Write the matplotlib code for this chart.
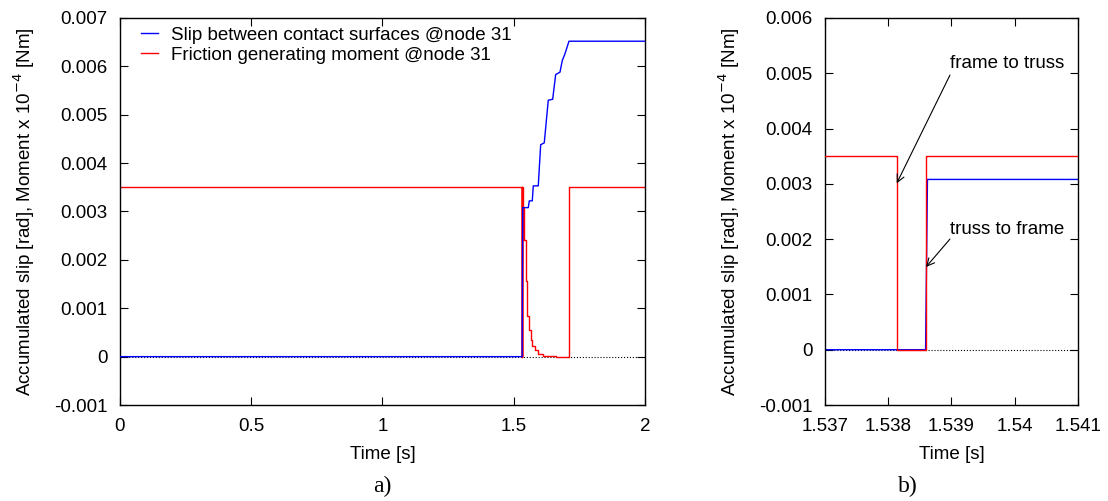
import matplotlib.pyplot as plt
import numpy as np

plt.rcParams['font.family'] = ['Liberation Sans', 'DejaVu Sans']
plt.rcParams['font.size'] = 13.5

# a) whole time history, node 31
t_slip = [0.0, 1.5320, 1.5343, 1.5555, 1.5593, 1.5707, 1.5745, 1.5935, 1.6027, 1.6164,
          1.6316, 1.6484, 1.6598, 1.6762, 1.6850, 1.6952, 1.7105, 2.0]
slip = [0.0, 0.0, 0.00308, 0.00308, 0.00322, 0.00322, 0.00353, 0.00353, 0.00438, 0.00442,
        0.00530, 0.00532, 0.00583, 0.00588, 0.00612, 0.00626, 0.00652, 0.00652]

# step values (held until next time)
t_mom = [0.0, 1.5310, 1.5315, 1.5320, 1.5325, 1.5340, 1.5390, 1.5467, 1.5517, 1.5580, 1.5644,
         1.5707, 1.5810, 1.5936, 1.6127, 1.6380, 1.6600, 1.7095, 2.0]
moment = [0.0035, 0.0, 0.0035, 0.0, 0.0035, 0.00308, 0.00242, 0.00156, 0.00083, 0.00056, 0.00035,
          0.00021, 0.00013, 0.00006, 0.00002, 0.00001, 0.0, 0.0035, 0.0035]

# b) zoom on the first slip event
t_slip_b = [1.537, 1.53859, 1.53862, 1.541]
slip_b = [0.0, 0.0, 0.00308, 0.00308]
t_mom_b = [1.537, 1.53814, 1.53860, 1.541]
moment_b = [0.0035, 0.0, 0.0035, 0.0035]

fig = plt.figure(figsize=(11.08, 5.01), dpi=100)
ax1 = fig.add_axes([0.1083, 0.1916, 0.4738, 0.7725])
ax2 = fig.add_axes([0.7446, 0.1916, 0.2283, 0.7725])

for ax in (ax1, ax2):
    ax.axhline(0, color='black', ls=':', lw=0.8, zorder=1)
    ax.tick_params(direction='in', top=True, right=True, length=6, width=0.8)
    ax.tick_params(axis='x', pad=9)
    ax.tick_params(axis='y', pad=9)
    for s in ax.spines.values():
        s.set_linewidth(1.0)
    ax.set_xlabel('Time [s]', labelpad=8)
    ax.set_ylabel(r'Accumulated slip [rad], Moment x 10$^{-4}$ [Nm]', labelpad=12)

ax1.plot(t_slip, slip, color='#0000ff', lw=1.0, label='Slip between contact surfaces @node 31', zorder=3)
ax1.plot(t_mom, moment, color='#ff0000', lw=1.0, drawstyle='steps-post',
         label='Friction generating moment @node 31', zorder=2)
ax1.set_xlim(0, 2)
ax1.set_ylim(-0.001, 0.007)
ax1.set_xticks([0, 0.5, 1, 1.5, 2])
ax1.set_xticklabels(['0', '0.5', '1', '1.5', '2'])
ax1.set_yticks(np.arange(-0.001, 0.0071, 0.001))
ax1.set_yticklabels(['-0.001', '0', '0.001', '0.002', '0.003', '0.004', '0.005', '0.006', '0.007'])
ax1.legend(loc='upper left', frameon=False, handlelength=0.9, handletextpad=0.7,
           borderpad=0, borderaxespad=0, labelspacing=0.15, bbox_to_anchor=(0.04, 0.977))

ax2.plot(t_slip_b, slip_b, color='#0000ff', lw=1.0, zorder=2)
ax2.plot(t_mom_b, moment_b, color='#ff0000', lw=1.0, drawstyle='steps-post', zorder=3)
ax2.set_xlim(1.537, 1.541)
ax2.set_ylim(-0.001, 0.006)
ax2.set_xticks([1.537, 1.538, 1.539, 1.54, 1.541])
ax2.set_xticklabels(['1.537', '1.538', '1.539', '1.54', '1.541'])
ax2.set_yticks(np.arange(-0.001, 0.0061, 0.001))
ax2.set_yticklabels(['-0.001', '0', '0.001', '0.002', '0.003', '0.004', '0.005', '0.006'])

arr = dict(arrowstyle='->', color='black', lw=0.8, shrinkA=0, shrinkB=0)
ax2.annotate('', xy=(1.538134, 0.00301), xytext=(1.538976, 0.004968), arrowprops=arr)
ax2.annotate('', xy=(1.538597, 0.001496), xytext=(1.538976, 0.002002), arrowprops=arr)
ax2.text(1.539877, 0.005185, 'frame to truss', ha='center', va='center')
ax2.text(1.539877, 0.002183, 'truss to frame', ha='center', va='center')

fig.text(0.345, 0.018, 'a)', family=['Liberation Serif'], fontsize=17, ha='center')
fig.text(0.819, 0.018, 'b)', family=['Liberation Serif'], fontsize=17, ha='center')

fig.savefig('out.png', dpi=100)
